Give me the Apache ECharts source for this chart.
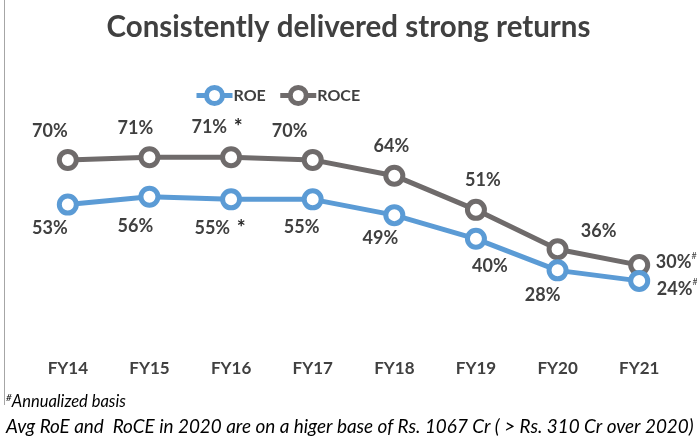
<!DOCTYPE html>
<html>
<head>
<meta charset="utf-8">
<script src="https://cdn.jsdelivr.net/npm/echarts@6/dist/echarts.min.js"></script>
<style>
html,body{margin:0;padding:0;background:#fff;}
#chart{width:697px;height:439px;}
</style>
</head>
<body>
<div id="chart"></div>
<script>
// ---- data ----
var categories = ['FY14','FY15','FY16','FY17','FY18','FY19','FY20','FY21'];
var roe  = [53, 56, 55, 55, 49, 40, 28, 24];
var roce = [70, 71, 71, 70, 64, 51, 36, 30];
// footnote markers per category
var marks = ['', '', '*', '', '', '', '', '#'];

// ---- label placement (styling) ----
var roceLabelOffsets = [[-18,-29],[-14,-29],[-14,-30],[-23,-29],[-3,-29],[7,-30],[41,-18],[37,-3]];
var roeLabelOffsets  = [[-18,24],[-14,29],[-11,29],[-11,28],[-14,23],[14,27],[-15,25],[38,8]];

var TXT = '#404040';
var FONT = 'Lato';

function buildData(vals, offs){
  return vals.map(function(v,i){
    return { value: v, label: { offset: offs[i] } };
  });
}
function fmt(p){
  var m = marks[p.dataIndex];
  var s = '{v|' + p.value + '%}';
  if (m === '*') s += '  {a|*}';
  if (m === '#') s += '{h|#}';
  return s;
}
var rich = {
  v: {fontSize: 18, fontWeight: 'bold', color: TXT, fontFamily: FONT, lineHeight: 22},
  a: {fontSize: 21, fontWeight: 'bold', color: '#262626', fontFamily: FONT, verticalAlign: 'top', lineHeight: 22, padding:[0,0,12,0]},
  h: {fontSize: 9, color: TXT, fontFamily: FONT, verticalAlign: 'top', lineHeight: 22, padding:[0,0,16,0]}
};

var chart = echarts.init(document.getElementById('chart'), null, {renderer:'canvas'});
chart.setOption({
  backgroundColor: '#fff',
  animation: false,
  title: {
    text: 'Consistently delivered strong returns',
    left: 'center',
    top: 7,
    textStyle: {fontSize: 29.5, fontWeight: 'bold', color: TXT, fontFamily: FONT}
  },
  legend: {
    data: ['ROE','ROCE'],
    left: 189,
    top: 80,
    itemWidth: 36,
    itemHeight: 20,
    itemGap: 12,
    lineStyle: {width: 5},
    itemStyle: {borderWidth: 5},
    textStyle: {fontSize: 16, fontWeight: 'bold', color: TXT, fontFamily: FONT, padding:[0,0,0,-4]}
  },
  grid: {left: 27, right: 17, top: 81, bottom: 95, containLabel: false},
  xAxis: {
    type: 'category',
    data: categories,
    boundaryGap: true,
    axisLine: {show: false},
    axisTick: {show: false},
    axisLabel: {fontSize: 17, fontWeight: 'bold', color: TXT, fontFamily: FONT, margin: 16}
  },
  yAxis: {
    type: 'value', min: 0, max: 100, interval: 20,
    show: false
  },
  series: [
    {
      name: 'ROE', type: 'line',
      data: buildData(roe, roeLabelOffsets),
      color: '#5B9BD5',
      lineStyle: {width: 5, color: '#5B9BD5'},
      symbol: 'circle', symbolSize: 17,
      itemStyle: {color: '#fff', borderColor: '#5B9BD5', borderWidth: 5},
      label: {show: true, position: 'inside', formatter: fmt, rich: rich},
      z: 3
    },
    {
      name: 'ROCE', type: 'line',
      data: buildData(roce, roceLabelOffsets),
      color: '#6F6B6B',
      lineStyle: {width: 5, color: '#6F6B6B'},
      symbol: 'circle', symbolSize: 17,
      itemStyle: {color: '#fff', borderColor: '#6F6B6B', borderWidth: 5},
      label: {show: true, position: 'inside', formatter: fmt, rich: rich},
      z: 2
    }
  ],
  graphic: [
    {type: 'line', shape: {x1: 4.5, y1: 0, x2: 4.5, y2: 405}, style: {stroke: '#a6a6a6', lineWidth: 1}},
    {
      type: 'text', left: 6, top: 393,
      style: {
        text: '{h|#}{t|Annualized basis}',
        rich: {
          h: {fontSize: 10, fontStyle: 'italic', fill: '#000', fontFamily: FONT, verticalAlign: 'top', padding:[0,0,8,0]},
          t: {fontSize: 16.5, fontStyle: 'italic', fill: '#000', fontFamily: FONT}
        }
      }
    },
    {
      type: 'text', left: 6, top: 417,
      style: {
        text: 'Avg RoE and  RoCE in 2020 are on a higer base of Rs. 1067 Cr ( > Rs. 310 Cr over 2020)',
        fontSize: 18.9, fontStyle: 'italic', fill: '#000', fontFamily: FONT
      }
    }
  ]
});
</script>
</body>
</html>
